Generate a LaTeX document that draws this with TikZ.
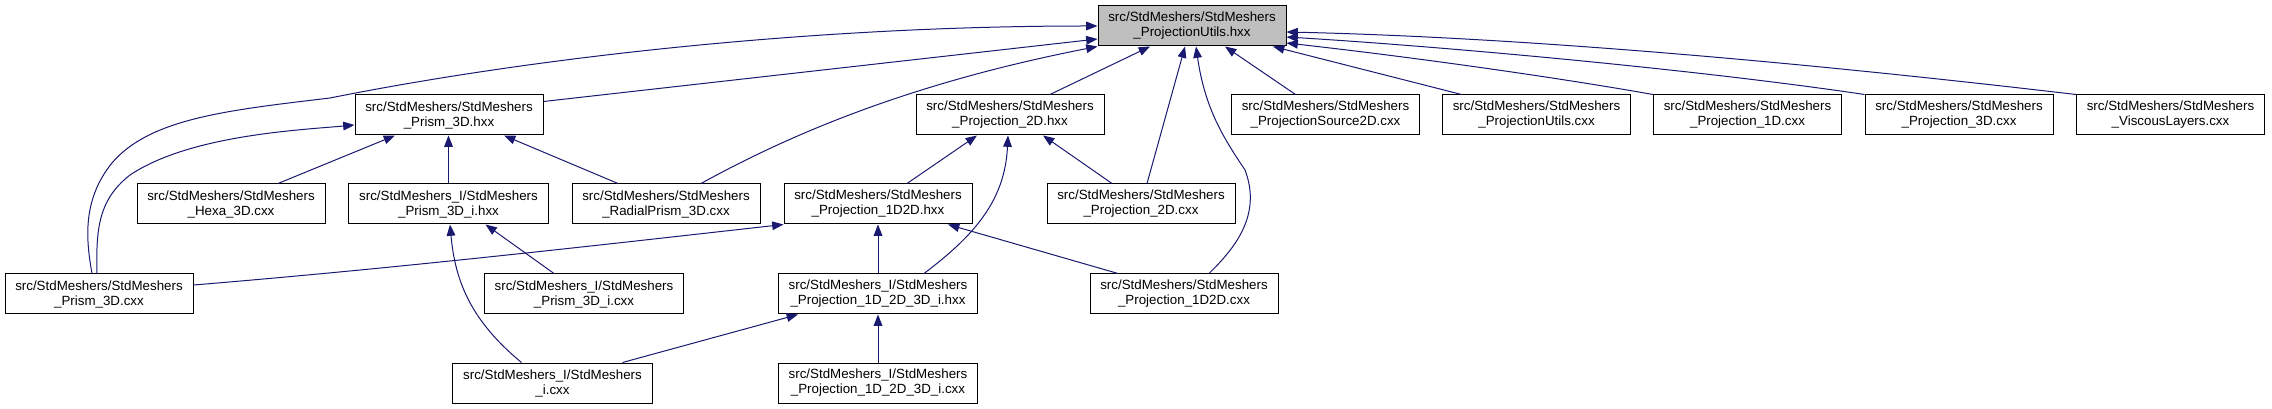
\documentclass[tikz,border=0pt]{standalone}
\usepackage{fontspec}
\setmainfont{Liberation Sans}
\usetikzlibrary{arrows.meta,calc}
\definecolor{edgeblue}{HTML}{191970}
\definecolor{boxgray}{HTML}{BFBFBF}
\begin{document}
\begin{tikzpicture}[x=0.75pt,y=-0.75pt,
	file/.style={draw=black, line width=0.75pt, align=center, minimum height=30pt, inner xsep=7.7pt, inner ysep=0pt, font=\fontsize{10}{11.25}\selectfont},
	inc/.style={draw=edgeblue, line width=0.75pt, -{Triangle[length=8.5pt,width=6.5pt]}}]
	\useasboundingbox (0,0) rectangle (2272,409);
	% top
	\node[file, fill=boxgray] (utilsHxx) at (1192,26) {src/StdMeshers/StdMeshers\\\_ProjectionUtils.hxx};
	% second row
	\node[file] (prismHxx) at (449,115) {src/StdMeshers/StdMeshers\\\_Prism\_3D.hxx};
	\node[file] (proj2dHxx) at (1010,115) {src/StdMeshers/StdMeshers\\\_Projection\_2D.hxx};
	\node[file] (source2dCxx) at (1325.5,115) {src/StdMeshers/StdMeshers\\\_ProjectionSource2D.cxx};
	\node[file] (utilsCxx) at (1536.5,115) {src/StdMeshers/StdMeshers\\\_ProjectionUtils.cxx};
	\node[file] (proj1dCxx) at (1747.5,115) {src/StdMeshers/StdMeshers\\\_Projection\_1D.cxx};
	\node[file] (proj3dCxx) at (1959,115) {src/StdMeshers/StdMeshers\\\_Projection\_3D.cxx};
	\node[file] (viscousCxx) at (2170.5,115) {src/StdMeshers/StdMeshers\\\_ViscousLayers.cxx};
	% third row
	\node[file] (hexaCxx) at (231,204) {src/StdMeshers/StdMeshers\\\_Hexa\_3D.cxx};
	\node[file] (prismIHxx) at (448.5,204) {src/StdMeshers\_I/StdMeshers\\\_Prism\_3D\_i.hxx};
	\node[file] (radialCxx) at (666,204) {src/StdMeshers/StdMeshers\\\_RadialPrism\_3D.cxx};
	\node[file] (proj1d2dHxx) at (878,204) {src/StdMeshers/StdMeshers\\\_Projection\_1D2D.hxx};
	\node[file] (proj2dCxx) at (1141,204) {src/StdMeshers/StdMeshers\\\_Projection\_2D.cxx};
	% fourth row
	\node[file] (prismCxx) at (99,294) {src/StdMeshers/StdMeshers\\\_Prism\_3D.cxx};
	\node[file] (prismICxx) at (584,294) {src/StdMeshers\_I/StdMeshers\\\_Prism\_3D\_i.cxx};
	\node[file] (projIHxx) at (878,294) {src/StdMeshers\_I/StdMeshers\\\_Projection\_1D\_2D\_3D\_i.hxx};
	\node[file] (proj1d2dCxx) at (1184,294) {src/StdMeshers/StdMeshers\\\_Projection\_1D2D.cxx};
	% bottom row
	\node[file] (iCxx) at (552.5,383) {src/StdMeshers\_I/StdMeshers\\\_i.cxx};
	\node[file] (projICxx) at (878,383) {src/StdMeshers\_I/StdMeshers\\\_Projection\_1D\_2D\_3D\_i.cxx};

	% includes of ProjectionUtils.hxx
	\draw[inc] ($(prismCxx.north)+(-7,0)$) .. controls (86,240) and (82,200) .. (112,163) .. controls (150,118) and (230,110) .. (330,98) .. controls (520,60) and (800,26) .. (utilsHxx.west);
	\draw[inc] ($(prismHxx.north east)+(0,7)$) -- ($(utilsHxx.west)+(0,13)$);
	\draw[inc] ($(radialCxx.north)+(35,0)$) .. controls (780,140) and (900,85) .. (utilsHxx.south west);
	\draw[inc] ($(proj2dHxx.north)+(40,0)$) -- ($(utilsHxx.south)+(-42,0)$);
	\draw[inc] ($(proj2dCxx.north)+(6,0)$) -- ($(utilsHxx.south)+(-7,0)$);
	\draw[inc] ($(proj1d2dCxx.north)+(25,0)$) .. controls (1235,248) and (1262,215) .. (1245,170) .. controls (1225,140) and (1205,110) .. ($(utilsHxx.south)+(4,0)$);
	\draw[inc] ($(source2dCxx.north)+(-30,0)$) -- ($(utilsHxx.south)+(33,0)$);
	\draw[inc] ($(utilsCxx.north)+(-75,0)$) -- ($(utilsHxx.south)+(81,0)$);
	\draw[inc] (proj1dCxx.north west) .. controls (1560,78) and (1420,58) .. ($(utilsHxx.east)+(0,17)$);
	\draw[inc] (proj3dCxx.north west) .. controls (1700,70) and (1450,47) .. ($(utilsHxx.east)+(0,11)$);
	\draw[inc] (viscousCxx.north west) .. controls (1850,68) and (1550,38) .. ($(utilsHxx.east)+(0,6)$);
	% includes of Prism_3D.hxx
	\draw[inc] ($(hexaCxx.north)+(47,0)$) -- ($(prismHxx.south)+(-54,0)$);
	\draw[inc] (prismIHxx.north) -- (prismIHxx.north |- prismHxx.south);
	\draw[inc] ($(radialCxx.north)+(-48,0)$) -- ($(prismHxx.south)+(55,0)$);
	\draw[inc] ($(prismCxx.north)+(-2,0)$) .. controls (96,230) and (98,200) .. (130,175) .. controls (190,135) and (300,130) .. ($(prismHxx.west)+(0,10)$);
	% includes of Prism_3D_i.hxx
	\draw[inc] ($(prismICxx.north)+(-30,0)$) -- ($(prismIHxx.south)+(37,0)$);
	\draw[inc] ($(iCxx.north)+(-31,0)$) .. controls (470,320) and (455,280) .. ($(prismIHxx.south)+(1.5,0)$);
	% includes of Projection_2D.hxx
	\draw[inc] ($(proj1d2dHxx.north)+(29,0)$) -- ($(proj2dHxx.south)+(-33,0)$);
	\draw[inc] ($(proj2dCxx.north)+(-29,0)$) -- ($(proj2dHxx.south)+(33,0)$);
	\draw[inc] ($(projIHxx.north)+(46,0)$) .. controls (975,235) and (1005,200) .. ($(proj2dHxx.south)+(-2,0)$);
	% includes of Projection_1D2D.hxx
	\draw[inc] ($(prismCxx.east)+(0,-9)$) .. controls (400,268) and (600,245) .. (proj1d2dHxx.south west);
	\draw[inc] (projIHxx.north) -- (proj1d2dHxx.south);
	\draw[inc] ($(proj1d2dCxx.north)+(-66,0)$) -- ($(proj1d2dHxx.south)+(70,0)$);
	% includes of Projection_1D_2D_3D_i.hxx
	\draw[inc] ($(iCxx.north)+(70,0)$) -- ($(projIHxx.south)+(-80,0)$);
	\draw[inc] (projICxx.north) -- (projIHxx.south);
\end{tikzpicture}
\end{document}
